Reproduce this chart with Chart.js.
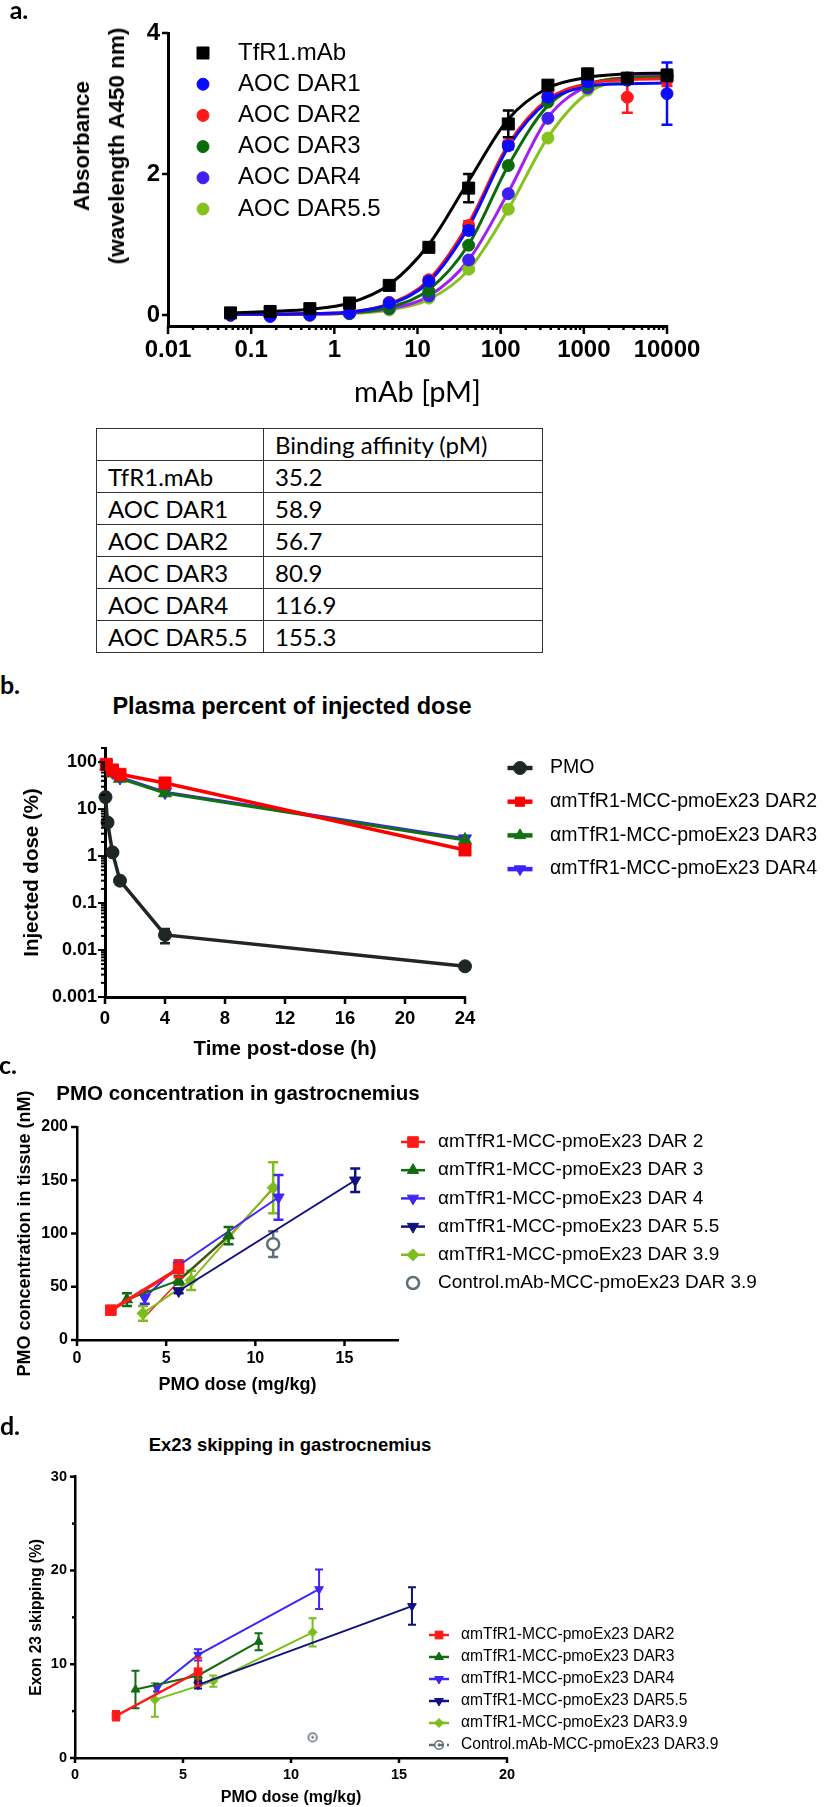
<!DOCTYPE html>
<html>
<head>
<meta charset="utf-8">
<script src="https://cdn.jsdelivr.net/npm/chart.js@4.4.0/dist/chart.umd.min.js"></script>
<style>
  body { margin: 0; background: #fff; width: 833px; height: 1807px; position: relative; overflow: hidden;
         font-family: "Liberation Sans", Arial, sans-serif; color: #000; }
  canvas { position: absolute; left: 0; }
  .letter { position: absolute; font-family: Lato, sans-serif; font-weight: bold; font-size: 25px;
            transform: translate(-50%, -50%); line-height: 1; }
  .title { position: absolute; font-weight: bold; white-space: nowrap; transform: translate(-50%, -50%); line-height: 1; }
  .ytitle { position: absolute; font-weight: bold; white-space: nowrap; text-align: center;
            transform: translate(-50%, -50%) rotate(-90deg); }
  #affinity { position: absolute; left: 96px; top: 428px; width: 446px; border-collapse: collapse;
              table-layout: fixed; font-family: Lato, sans-serif; font-size: 24px; }
  #affinity td { border: 1.4px solid #333; height: 31px; padding: 0 0 0 11px; line-height: 1; }
</style>
</head>
<body>
<canvas id="chartA" style="top:0px" width="833" height="420"></canvas>
<canvas id="chartB" style="top:735px" width="833" height="330"></canvas>
<canvas id="chartC" style="top:1068px" width="833" height="332"></canvas>
<canvas id="chartD" style="top:1465px" width="833" height="342"></canvas>

<div class="letter" style="left:19px; top:9px">a.</div>
<div class="letter" style="left:10px; top:684px">b.</div>
<div class="letter" style="left:8px; top:1064px">c.</div>
<div class="letter" style="left:10px; top:1425px">d.</div>
<div class="ytitle" style="left:99px; top:146px; font-size:22.5px; line-height:35px">Absorbance<br>(wavelength A450 nm)</div>
<div class="title" style="left:292px; top:707px; font-size:23.5px">Plasma percent of injected dose</div>
<div class="title" style="left:238px; top:1093px; font-size:20.5px">PMO concentration in gastrocnemius</div>
<div class="title" style="left:290px; top:1445px; font-size:18.5px">Ex23 skipping in gastrocnemius</div>

<table id="affinity">
  <colgroup><col style="width:167px"><col style="width:279px"></colgroup>
  <tbody id="affinityBody"></tbody>
</table>

<script>
// ---------- a. ELISA binding ----------
const concPM   = [0.0565, 0.169, 0.508, 1.52, 4.57, 13.7, 41.2, 123.5, 370, 1111, 3333, 10000];
const tfr1Abs  = [0.03, 0.05, 0.09, 0.17, 0.42, 0.96, 1.80, 2.71, 3.26, 3.42, 3.36, 3.40];
const tfr1Err  = [0.02, 0.03, 0.03, 0.04, 0.05, 0.05, 0.20, 0.19, 0.06, 0.07, 0.06, 0.08];
const dar1Abs  = [0.00, -0.02, 0.00, 0.03, 0.17, 0.48, 1.20, 2.40, 3.09, 3.31, 3.33, 3.14];
const dar1Err  = [0, 0, 0, 0, 0.03, 0.04, 0.06, 0.05, 0.05, 0.06, 0.05, 0.44];
const dar2Abs  = [0.00, 0.00, 0.01, 0.04, 0.18, 0.50, 1.27, 2.42, 3.10, 3.32, 3.09, 3.33];
const dar2Err  = [0, 0, 0, 0, 0.03, 0.04, 0.06, 0.05, 0.05, 0.06, 0.22, 0.08];
const dar3Abs  = [0.00, 0.00, 0.00, 0.02, 0.10, 0.34, 0.99, 2.12, 3.02, 3.26, 3.36, 3.38];
const dar4Abs  = [0.00, 0.00, 0.00, 0.02, 0.09, 0.27, 0.78, 1.72, 2.79, 3.22, 3.36, 3.40];
const dar55Abs = [0.00, 0.00, 0.00, 0.02, 0.07, 0.24, 0.65, 1.50, 2.51, 3.19, 3.35, 3.38];
// fitted curves at the same concentrations
const tfr1Fit  = [0.03, 0.05, 0.08, 0.17, 0.43, 1.00, 1.90, 2.78, 3.22, 3.37, 3.42, 3.43];
const dar1Fit  = [0.01, 0.01, 0.02, 0.04, 0.15, 0.47, 1.25, 2.38, 3.03, 3.24, 3.28, 3.29];
const dar2Fit  = [0.01, 0.01, 0.02, 0.04, 0.16, 0.50, 1.30, 2.42, 3.06, 3.28, 3.34, 3.35];
const dar3Fit  = [0.01, 0.01, 0.02, 0.03, 0.11, 0.36, 1.00, 2.12, 2.97, 3.28, 3.36, 3.38];
const dar4Fit  = [0.01, 0.01, 0.01, 0.03, 0.09, 0.27, 0.78, 1.74, 2.80, 3.25, 3.37, 3.40];
const dar55Fit = [0.01, 0.01, 0.01, 0.02, 0.07, 0.22, 0.64, 1.50, 2.52, 3.15, 3.34, 3.38];
const concTicks = [0.01, 0.1, 1, 10, 100, 1000, 10000];
const absTicks  = [0, 2, 4];

// table
const tableNames    = ['TfR1.mAb', 'AOC DAR1', 'AOC DAR2', 'AOC DAR3', 'AOC DAR4', 'AOC DAR5.5'];
const bindingAffPM  = ['35.2', '58.9', '56.7', '80.9', '116.9', '155.3'];

// ---------- b. plasma PK ----------
const pmoHours  = [0.033, 0.17, 0.5, 1, 4, 24];
const pmoPct    = [18, 5.2, 1.2, 0.30, 0.021, 0.0045];
const pmoErr    = [2, 0.8, 0.1, 0.03, 0.007, 0.0004];
const conjHours = [0.083, 0.5, 1, 4, 24];
const pkDar2    = [90, 68, 55, 36, 1.35];
const pkDar3    = [82, 58, 45, 22, 2.2];
const pkDar4    = [92, 62, 47, 23, 2.35];
const hourTicks = [0, 4, 8, 12, 16, 20, 24];
const pctTicks  = [0.001, 0.01, 0.1, 1, 10, 100];

// ---------- c. tissue PMO ----------
const cDar2Dose  = [1.9, 5.7],            cDar2Conc  = [28, 67],       cDar2Err  = [2, 8];
const cDar2bDose = [3.7, 5.7, 8.5, 11.0], cDar2bConc = [20, 55, 97, 142];
const cDar3Dose  = [2.8, 5.7, 8.5],       cDar3Conc  = [38, 56, 98],   cDar3Err  = [6, 4, 8];
const cDar4Dose  = [3.8, 5.7, 11.3],      cDar4Conc  = [40, 70, 134],  cDar4Err  = [6, 4, 21];
const cDar55Dose = [5.7, 15.6],           cDar55Conc = [46, 150],      cDar55Err = [2, 11];
const cDar39Dose = [3.7, 6.4, 11.0],      cDar39Conc = [25, 56, 143],  cDar39Err = [7, 9, 24];
const cCtrlDose  = [11.0],                cCtrlConc  = [90],           cCtrlErr  = [12];
const cDoseTicks = [0, 5, 10, 15];
const cConcTicks = [0, 50, 100, 150, 200];

// ---------- d. exon skipping ----------
const dDar2Dose  = [1.9, 5.7],        dDar2Skip  = [4.5, 9.2],        dDar2Err  = [0.5, 1.5];
const dDar3Dose  = [2.8, 5.7, 8.5],   dDar3Skip  = [7.3, 8.8, 12.4],  dDar3Err  = [2.0, 0.4, 0.9];
const dDar4Dose  = [3.8, 5.7, 11.3],  dDar4Skip  = [7.5, 11.0, 18.0], dDar4Err  = [0.4, 0.6, 2.1];
const dDar55Dose = [5.7, 15.6],       dDar55Skip = [7.8, 16.2],       dDar55Err = [0.4, 2.0];
const dDar39Dose = [3.7, 6.4, 11.0],  dDar39Skip = [6.2, 8.2, 13.4],  dDar39Err = [1.8, 0.6, 1.5];
const dCtrlDose  = [11.0],            dCtrlSkip  = [2.2];
const dDoseTicks = [0, 5, 10, 15, 20];
const dSkipTicks = [0, 10, 20, 30];
const dSkipMinor = [5, 15, 25];

const SANS = '"Liberation Sans", Arial, sans-serif';

// fill the table
const tbody = document.getElementById('affinityBody');
tbody.innerHTML = '<tr><td></td><td>Binding affinity (pM)</td></tr>' +
  tableNames.map((n, i) => '<tr><td>' + n + '</td><td>' + bindingAffPM[i] + '</td></tr>').join('');

function xy(xs, ys) { return xs.map((x, i) => ({ x: x, y: ys[i] })); }

// minor log ticks 2..9 x 10^n between two decades
function logMinor(majors, max) {
  const out = [];
  majors.forEach(m => { for (let k = 2; k <= 9; k++) { const v = +(k * m).toPrecision(3); if (v <= max) out.push(v); } });
  return out;
}

function series(label, xs, ys, o) {
  return {
    label: label, data: xy(xs, ys),
    borderColor: o.line || o.color, backgroundColor: o.color,
    pointBackgroundColor: o.fill || o.color, pointBorderColor: o.color,
    pointStyle: o.style || 'circle', pointRotation: o.rot || 0,
    pointRadius: o.r || 0, pointHoverRadius: o.r || 0, pointBorderWidth: o.bw == null ? 1 : o.bw,
    borderWidth: o.lw || 0, showLine: !!o.lw, tension: 0, clip: false,
    cubicInterpolationMode: o.smooth ? 'monotone' : 'default',
    errors: o.err, errColor: o.errColor || o.color, errWidth: o.ew || 2, capW: o.cap || 8,
    inLegend: o.legend !== false, legendLine: o.legendLine, legendDash: o.legendDash
  };
}

// error bars, drawn under each dataset's markers
Chart.register({
  id: 'errorBars',
  beforeDatasetDraw(chart, args) {
    const ds = chart.data.datasets[args.index];
    if (!ds.errors) return;
    const ctx = chart.ctx, ys = chart.scales.y;
    ctx.save();
    ctx.strokeStyle = ds.errColor;
    ctx.lineWidth = ds.errWidth;
    args.meta.data.forEach((el, i) => {
      const e = ds.errors[i];
      if (!e) return;
      const v = ds.data[i].y;
      const lo = (ys.type === 'logarithmic' && v - e <= 0) ? v / 2 : v - e;
      const yTop = ys.getPixelForValue(v + e), yBot = ys.getPixelForValue(lo);
      const h = ds.capW / 2;
      ctx.beginPath();
      ctx.moveTo(el.x, yTop); ctx.lineTo(el.x, yBot);
      ctx.moveTo(el.x - h, yTop); ctx.lineTo(el.x + h, yTop);
      ctx.moveTo(el.x - h, yBot); ctx.lineTo(el.x + h, yBot);
      ctx.stroke();
    });
    ctx.restore();
  }
});

// outward tick marks, major and minor
function tickMarks(spec) {
  return {
    id: 'tickMarks',
    afterDraw(chart) {
      const ctx = chart.ctx, area = chart.chartArea;
      ctx.save();
      ctx.strokeStyle = '#000';
      ['x', 'y'].forEach(id => {
        const s = spec[id];
        if (!s) return;
        const scale = chart.scales[id];
        ctx.lineWidth = s.width;
        const marks = s.major.map(v => [v, s.len]).concat((s.minor || []).map(v => [v, s.minorLen]));
        marks.forEach(([v, len]) => {
          const p = scale.getPixelForValue(v);
          ctx.beginPath();
          if (id === 'x') { ctx.moveTo(p, area.bottom); ctx.lineTo(p, area.bottom + len); }
          else { ctx.moveTo(area.left, p); ctx.lineTo(area.left - len, p); }
          ctx.stroke();
        });
      });
      ctx.restore();
    }
  };
}

// legend drawn at fixed spots
function sideLegend(cfg) {
  return {
    id: 'sideLegend',
    afterDraw(chart) {
      const ctx = chart.ctx;
      let row = 0;
      chart.data.datasets.forEach(ds => {
        if (!ds.inLegend) return;
        const y = cfg.top + row * cfg.rowH;
        row += 1;
        ctx.save();
        if (cfg.lineLen && ds.legendLine !== false) {
          ctx.strokeStyle = ds.borderColor;
          ctx.lineWidth = cfg.lineW;
          ctx.setLineDash(ds.legendDash || []);
          ctx.beginPath();
          ctx.moveTo(cfg.mx - cfg.lineLen / 2, y);
          ctx.lineTo(cfg.mx + cfg.lineLen / 2, y);
          ctx.stroke();
          ctx.setLineDash([]);
        }
        ctx.fillStyle = ds.pointBackgroundColor;
        ctx.strokeStyle = ds.pointBorderColor;
        ctx.lineWidth = ds.pointBorderWidth;
        Chart.helpers.drawPoint(ctx, {
          pointStyle: ds.pointStyle, rotation: ds.pointRotation,
          radius: cfg.r || ds.pointRadius, borderWidth: ds.pointBorderWidth
        }, cfg.mx, y);
        ctx.fillStyle = '#000';
        ctx.font = cfg.font;
        ctx.textBaseline = 'middle';
        ctx.textAlign = 'left';
        ctx.fillText(ds.label, cfg.tx, y);
        ctx.restore();
      });
    }
  };
}

function axisCfg(o) {
  return {
    type: o.type || 'linear',
    min: o.min, max: o.max,
    afterBuildTicks: s => { s.ticks = o.major.map(v => ({ value: v })); },
    afterFit: s => { if (o.horizontal) s.height = o.size; else s.width = o.size; },
    grid: { display: false, drawTicks: true, tickLength: o.tickLen },
    border: { display: true, color: '#000', width: o.lineW },
    ticks: {
      autoSkip: false, maxRotation: 0, minRotation: 0, padding: o.pad, color: '#000',
      font: { family: SANS, size: o.fontSize, weight: 'bold' },
      callback: v => String(v)
    },
    title: o.title || { display: false }
  };
}

function makeChart(id, datasets, scales, padding, plugins) {
  return new Chart(document.getElementById(id).getContext('2d'), {
    type: 'line',
    data: { datasets: datasets },
    options: {
      responsive: false, animation: false, devicePixelRatio: 1,
      layout: { padding: padding },
      plugins: { legend: { display: false }, tooltip: { enabled: false } },
      scales: scales
    },
    plugins: plugins
  });
}

// ---------- panel a ----------
const colA = { tfr1: '#000000', dar1: '#0a0aff', dar2: '#ff1a1a', dar3: '#0b6b0b', dar4: '#3d1ff0', dar4Line: '#a11ff0', dar55: '#86c21e' };
makeChart('chartA', [
  series('TfR1.mAb', concPM, tfr1Abs, { color: colA.tfr1, style: 'rect', r: 8.5, err: tfr1Err, ew: 2.5, cap: 11 }),
  series('AOC DAR1', concPM, dar1Abs, { color: colA.dar1, r: 6, err: dar1Err, ew: 2.5, cap: 11 }),
  series('AOC DAR2', concPM, dar2Abs, { color: colA.dar2, r: 6, err: dar2Err, ew: 2.5, cap: 11 }),
  series('AOC DAR3', concPM, dar3Abs, { color: colA.dar3, r: 6 }),
  series('AOC DAR4', concPM, dar4Abs, { color: colA.dar4, r: 6 }),
  series('AOC DAR5.5', concPM, dar55Abs, { color: colA.dar55, r: 6 }),
  series('TfR1.mAb fit', concPM, tfr1Fit, { color: colA.tfr1, lw: 3, smooth: true, legend: false }),
  series('AOC DAR1 fit', concPM, dar1Fit, { color: colA.dar1, lw: 3, smooth: true, legend: false }),
  series('AOC DAR2 fit', concPM, dar2Fit, { color: colA.dar2, lw: 3, smooth: true, legend: false }),
  series('AOC DAR3 fit', concPM, dar3Fit, { color: colA.dar3, lw: 3, smooth: true, legend: false }),
  series('AOC DAR4 fit', concPM, dar4Fit, { color: colA.dar4Line, lw: 3, smooth: true, legend: false }),
  series('AOC DAR5.5 fit', concPM, dar55Fit, { color: colA.dar55, lw: 3, smooth: true, legend: false })
], {
  x: axisCfg({ type: 'logarithmic', min: 0.01, max: 10000, major: concTicks, horizontal: true, size: 94,
               tickLen: 7, pad: 3, fontSize: 24, lineW: 3,
               title: { display: true, text: 'mAb [pM]', color: '#000', padding: { top: 0, bottom: 10 },
                        font: { family: 'Lato, sans-serif', size: 29, weight: 'normal' } } }),
  y: axisCfg({ min: -0.156, max: 4, major: absTicks, size: 168, tickLen: 6, pad: 2, fontSize: 24, lineW: 3 })
}, { left: 0, right: 166, top: 33, bottom: 0 }, [
  tickMarks({ x: { major: concTicks, minor: logMinor(concTicks.slice(0, -1), 10000), len: 8, minorLen: 4, width: 2.5 },
              y: { major: absTicks, len: 6, width: 2.5 } }),
  sideLegend({ top: 53, rowH: 31.2, mx: 203, tx: 238, font: '24px ' + SANS })
]);

// ---------- panel b ----------
const colB = { pmo: '#202624', dar2: '#ff0000', dar3: '#127012', dar4: '#3d22f5' };
makeChart('chartB', [
  series('PMO', pmoHours, pmoPct, { color: colB.pmo, r: 6.5, lw: 3.5, err: pmoErr, ew: 2.5, cap: 10 }),
  series('\u03b1mTfR1-MCC-pmoEx23 DAR2', conjHours, pkDar2, { color: colB.dar2, style: 'rect', r: 8.5, lw: 3.5 }),
  series('\u03b1mTfR1-MCC-pmoEx23 DAR3', conjHours, pkDar3, { color: colB.dar3, style: 'triangle', r: 7.5, lw: 3 }),
  series('\u03b1mTfR1-MCC-pmoEx23 DAR4', conjHours, pkDar4, { color: colB.dar4, style: 'triangle', rot: 180, r: 7.5, lw: 3 })
], {
  x: axisCfg({ min: 0, max: 24, major: hourTicks, horizontal: true, size: 68, tickLen: 7, pad: 4, fontSize: 18.5, lineW: 3,
               title: { display: true, text: 'Time post-dose (h)', color: '#000', padding: { top: 0, bottom: 3 },
                        font: { family: SANS, size: 20.5, weight: 'bold' } } }),
  y: axisCfg({ type: 'logarithmic', min: 0.001, max: 200, major: pctTicks, size: 105, tickLen: 7, pad: 1, fontSize: 18, lineW: 3,
               title: { display: true, text: 'Injected dose (%)', color: '#000', padding: { top: 20, bottom: 0 },
                        font: { family: SANS, size: 20.5, weight: 'bold' } } })
}, { left: 0, right: 368, top: 13, bottom: 0 }, [
  tickMarks({ x: { major: hourTicks, len: 7, width: 2.5 },
              y: { major: pctTicks, minor: logMinor(pctTicks, 200), len: 7, minorLen: 4, width: 2 } }),
  sideLegend({ top: 33, rowH: 33.7, mx: 520, tx: 550, lineLen: 25, lineW: 4.5, r: 6.5, font: '19.5px ' + SANS })
]);

// ---------- panel c ----------
const colC = { dar2: '#ff1a1a', dar3: '#116b11', dar4: '#4026f5', dar55: '#10107f', dar39: '#7cbd1c', ctrl: '#5f6f77' };
makeChart('chartC', [
  series('\u03b1mTfR1-MCC-pmoEx23 DAR 2', cDar2Dose, cDar2Conc, { color: colC.dar2, style: 'rect', r: 7.5, lw: 3.5, err: cDar2Err, ew: 2.5, cap: 10 }),
  series('\u03b1mTfR1-MCC-pmoEx23 DAR 3', cDar3Dose, cDar3Conc, { color: colC.dar3, style: 'triangle', r: 6.5, lw: 2, err: cDar3Err, ew: 2.5, cap: 10 }),
  series('\u03b1mTfR1-MCC-pmoEx23 DAR 4', cDar4Dose, cDar4Conc, { color: colC.dar4, style: 'triangle', rot: 180, r: 6.5, lw: 2, err: cDar4Err, ew: 2.5, cap: 10 }),
  series('\u03b1mTfR1-MCC-pmoEx23 DAR 5.5', cDar55Dose, cDar55Conc, { color: colC.dar55, style: 'triangle', rot: 180, r: 6.5, lw: 2, err: cDar55Err, ew: 2.5, cap: 10 }),
  series('\u03b1mTfR1-MCC-pmoEx23 DAR 3.9', cDar39Dose, cDar39Conc, { color: colC.dar39, style: 'rectRot', r: 6, lw: 2, err: cDar39Err, ew: 2.5, cap: 10 }),
  series('Control.mAb-MCC-pmoEx23 DAR 3.9', cCtrlDose, cCtrlConc, { color: colC.ctrl, fill: '#ffffff', r: 6, bw: 2.5, err: cCtrlErr, ew: 2.5, cap: 10, legendLine: false }),
  series('DAR 2 (second set)', cDar2bDose, cDar2bConc, { color: colC.dar2, r: 0, lw: 1.5, legend: false })
], {
  x: axisCfg({ min: 0, max: 18, major: cDoseTicks, horizontal: true, size: 60, tickLen: 6, pad: 3, fontSize: 16, lineW: 2.5,
               title: { display: true, text: 'PMO dose (mg/kg)', color: '#000', padding: { top: 0, bottom: 4 },
                        font: { family: SANS, size: 18, weight: 'bold' } } }),
  y: axisCfg({ min: 0, max: 200, major: cConcTicks, size: 77, tickLen: 6, pad: 3, fontSize: 16, lineW: 2.5,
               title: { display: true, text: 'PMO concentration in tissue (nM)', color: '#000', padding: { top: 14, bottom: 0 },
                        font: { family: SANS, size: 18, weight: 'bold' } } })
}, { left: 0, right: 435, top: 59, bottom: 0 }, [
  tickMarks({ x: { major: cDoseTicks, len: 6, width: 2.5 }, y: { major: cConcTicks, len: 6, width: 2.5 } }),
  sideLegend({ top: 74, rowH: 28.2, mx: 413, tx: 438, lineLen: 24, lineW: 2.5, font: '19px ' + SANS })
]);

// ---------- panel d ----------
const ctrlMark = document.createElement('canvas');
ctrlMark.width = 12; ctrlMark.height = 12;
(function () {
  const g = ctrlMark.getContext('2d');
  g.strokeStyle = '#5f6f77'; g.fillStyle = '#5f6f77'; g.lineWidth = 1.6;
  g.beginPath(); g.arc(6, 6, 4.3, 0, Math.PI * 2); g.stroke();
  g.beginPath(); g.arc(6, 6, 1.4, 0, Math.PI * 2); g.fill();
})();
makeChart('chartD', [
  series('\u03b1mTfR1-MCC-pmoEx23 DAR2', dDar2Dose, dDar2Skip, { color: colC.dar2, style: 'rect', r: 5.5, lw: 2.5, err: dDar2Err, cap: 8 }),
  series('\u03b1mTfR1-MCC-pmoEx23 DAR3', dDar3Dose, dDar3Skip, { color: colC.dar3, style: 'triangle', r: 5, lw: 2, err: dDar3Err, cap: 8 }),
  series('\u03b1mTfR1-MCC-pmoEx23 DAR4', dDar4Dose, dDar4Skip, { color: colC.dar4, style: 'triangle', rot: 180, r: 5, lw: 2, err: dDar4Err, cap: 8 }),
  series('\u03b1mTfR1-MCC-pmoEx23 DAR5.5', dDar55Dose, dDar55Skip, { color: colC.dar55, style: 'triangle', rot: 180, r: 5, lw: 2, err: dDar55Err, cap: 8 }),
  series('\u03b1mTfR1-MCC-pmoEx23 DAR3.9', dDar39Dose, dDar39Skip, { color: colC.dar39, style: 'rectRot', r: 4.5, lw: 2, err: dDar39Err, cap: 8 }),
  series('Control.mAb-MCC-pmoEx23 DAR3.9', dCtrlDose, dCtrlSkip, { color: colC.ctrl, style: ctrlMark, r: 5, legendDash: [5, 4] })
], {
  x: axisCfg({ min: 0, max: 20, major: dDoseTicks, horizontal: true, size: 49, tickLen: 5, pad: 3, fontSize: 14.5, lineW: 2.5,
               title: { display: true, text: 'PMO dose (mg/kg)', color: '#000', padding: { top: 0, bottom: 0 },
                        font: { family: SANS, size: 16, weight: 'bold' } } }),
  y: axisCfg({ min: 0, max: 30, major: dSkipTicks, size: 75, tickLen: 5, pad: 3, fontSize: 14.5, lineW: 2.5,
               title: { display: true, text: 'Exon 23 skipping (%)', color: '#000', padding: { top: 27, bottom: 0 },
                        font: { family: SANS, size: 15.6, weight: 'bold' } } })
}, { left: 0, right: 326, top: 10, bottom: 0 }, [
  tickMarks({ x: { major: dDoseTicks, len: 5, width: 2.5 }, y: { major: dSkipTicks, minor: dSkipMinor, len: 5, minorLen: 3, width: 2.5 } }),
  sideLegend({ top: 170, rowH: 22, mx: 439, tx: 461, lineLen: 20, lineW: 2.5, font: '15.6px ' + SANS })
]);
</script>
</body>
</html>
